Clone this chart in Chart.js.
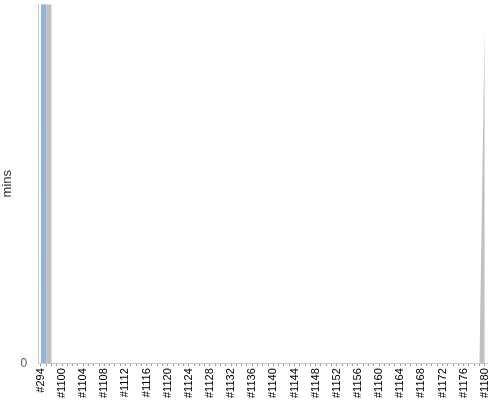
<!DOCTYPE html>
<html>
<head>
<meta charset="utf-8">
<script src="https://cdn.jsdelivr.net/npm/chart.js@4"></script>
<style>
    body { margin: 0; background: #fff; }
    #wrap { width: 500px; height: 400px; }
</style>
</head>
<body>
<div id="wrap"><canvas id="buildChart"></canvas></div>
<script>
// Build numbers on the category axis
const buildLabels = ['#294'];
for (let n = 1097; n <= 1180; n++) {
    buildLabels.push('#' + n);
}

// Build durations in minutes, per result
const successMins = [
    2000, 0, 0, 0, 0, 0, 0, 0, 0, 0,
    0, 0, 0, 0, 0, 0, 0, 0, 0, 0,
    0, 0, 0, 0, 0, 0, 0, 0, 0, 0,
    0, 0, 0, 0, 0, 0, 0, 0, 0, 0,
    0, 0, 0, 0, 0, 0, 0, 0, 0, 0,
    0, 0, 0, 0, 0, 0, 0, 0, 0, 0,
    0, 0, 0, 0, 0, 0, 0, 0, 0, 0,
    0, 0, 0, 0, 0, 0, 0, 0, 0, 0,
    0, 0, 0, 0, 0
];
const abortedMins = [
    0, 1500, 0, 0, 0, 0, 0, 0, 0, 0,
    0, 0, 0, 0, 0, 0, 0, 0, 0, 0,
    0, 0, 0, 0, 0, 0, 0, 0, 0, 0,
    0, 0, 0, 0, 0, 0, 0, 0, 0, 0,
    0, 0, 0, 0, 0, 0, 0, 0, 0, 0,
    0, 0, 0, 0, 0, 0, 0, 0, 0, 0,
    0, 0, 0, 0, 0, 0, 0, 0, 0, 0,
    0, 0, 0, 0, 0, 0, 0, 0, 0, 0,
    0, 0, 0, 0, 9.5
];
const yMax = 10;
const yTicks = [0];

const ctx = document.getElementById('buildChart').getContext('2d');
new Chart(ctx, {
    type: 'line',
    data: {
        labels: buildLabels,
        datasets: [
            {
                label: 'success',
                data: successMins,
                backgroundColor: 'rgb(146, 180, 224)',
                borderWidth: 0,
                pointRadius: 0,
                tension: 0,
                fill: 'origin'
            },
            {
                label: 'aborted',
                data: abortedMins,
                backgroundColor: 'rgb(192, 192, 192)',
                borderWidth: 0,
                pointRadius: 0,
                tension: 0,
                fill: '-1'
            }
        ]
    },
    options: {
        responsive: true,
        maintainAspectRatio: false,
        animation: false,
        layout: {
            padding: { top: 3, right: 9, left: 0, bottom: 0 }
        },
        plugins: {
            legend: { display: false },
            tooltip: { enabled: false }
        },
        scales: {
            x: {
                offset: true,
                grid: {
                    display: true,
                    drawOnChartArea: false,
                    tickLength: 3,
                    color: '#999'
                },
                border: { display: true, color: '#c8c8c8' },
                ticks: {
                    autoSkip: false,
                    minRotation: 90,
                    maxRotation: 90,
                    padding: 2,
                    color: '#000',
                    font: { family: 'Liberation Sans, Arial, sans-serif', size: 11 },
                    callback: function(value, index) {
                        return index % 4 === 0 ? buildLabels[index] : '';
                    }
                }
            },
            y: {
                stacked: true,
                min: 0,
                max: yMax,
                afterBuildTicks: function(axis) {
                    axis.ticks = yTicks.map(v => ({ value: v }));
                },
                grid: { display: false },
                border: { display: true, color: '#c8c8c8' },
                ticks: {
                    color: '#555',
                    padding: 3,
                    // small line height so the lone "0" label doesn't push the plot down
                    font: { family: 'Liberation Sans, Arial, sans-serif', size: 12, lineHeight: 0.2 }
                },
                title: {
                    display: true,
                    text: 'mins',
                    color: '#333',
                    padding: { top: 0, bottom: 2 },
                    font: { family: 'Liberation Sans, Arial, sans-serif', size: 13 }
                }
            }
        }
    }
});
</script>
</body>
</html>
